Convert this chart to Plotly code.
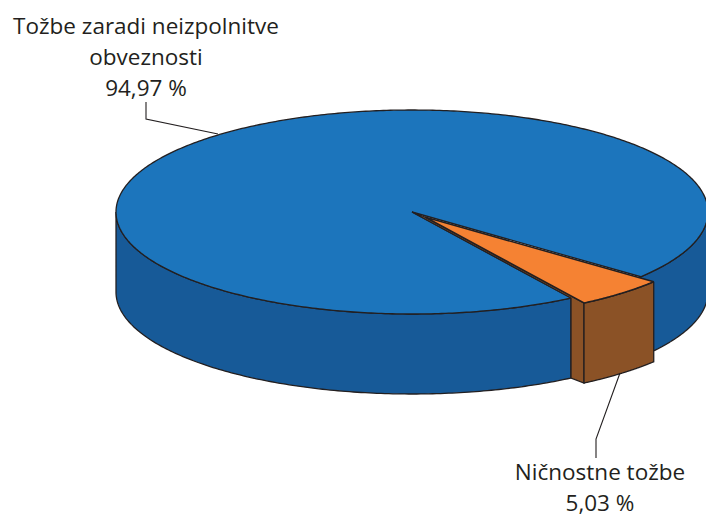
import numpy as np
import plotly.graph_objects as go

categories = ["Tožbe zaradi neizpolnitve<br>obveznosti", "Ničnostne tožbe"]
shares = [94.97, 5.03]
value_labels = ["94,97 %", "5,03 %"]

W, H = 706, 520
CX, CY, RX, RY, DEPTH = 412, 212, 296, 102, 80
EXPLODE = (13, 5)
START = 39.4  # degrees, where the small slice starts (clockwise on screen)

BLUE, BLUE_D = "#1c75bc", "#175a98"
ORANGE, ORANGE_D = "#f58233", "#8b5226"
INK = "#231f20"

sweep = shares[1] / sum(shares) * 360
a0, a1 = START, START + sweep


def arc(t0, t1, cx=CX, cy=CY, dz=0, n=160):
    t = np.radians(np.linspace(t0, t1, n))
    return cx + RX * np.cos(t), cy + RY * np.sin(t) + dz


def poly(xs, ys, fill, width=1.3):
    return go.Scatter(x=list(xs) + [xs[0]], y=list(ys) + [ys[0]], mode="lines", fill="toself",
                      fillcolor=fill, line=dict(color=INK, width=width, simplify=False),
                      hoverinfo="skip", showlegend=False)


def wall(t0, t1, cx=CX, cy=CY):
    xt, yt = arc(t0, t1, cx, cy)
    xb, yb = arc(t0, t1, cx, cy, DEPTH)
    return poly(np.r_[xt, xb[::-1]], np.r_[yt, yb[::-1]], None)


fig = go.Figure()

# blue body
for t0, t1 in [(a1, 180), (0, a0)]:
    w = wall(t0, t1)
    w.fillcolor = BLUE_D
    fig.add_trace(w)
xt, yt = arc(a1, a0 + 360, n=500)
fig.add_trace(poly(np.r_[xt, CX], np.r_[yt, CY], BLUE))

# exploded slice
ex, ey = CX + EXPLODE[0], CY + EXPLODE[1]
# radial side face, seen through the cut in the blue body
hx, hy = arc(a1, a1, n=1)
sx, sy = arc(a1, a1, ex, ey, n=1)
fig.add_trace(poly([CX, hx[0], hx[0], sx[0], sx[0], ex],
                   [CY, hy[0], hy[0] + DEPTH, sy[0] + DEPTH, sy[0], ey], ORANGE_D))
w = wall(a0, a1, ex, ey)
w.fillcolor = ORANGE_D
fig.add_trace(w)
xt, yt = arc(a0, a1, ex, ey, n=60)
fig.add_trace(poly(np.r_[ex, xt], np.r_[ey, yt], ORANGE, 1.6))

# leader lines
for lx, ly in [([146, 146, 218], [102, 119, 134]), ([620, 596, 596], [373, 439, 458])]:
    fig.add_trace(go.Scatter(x=lx, y=ly, mode="lines", line=dict(color=INK, width=1.1),
                             hoverinfo="skip", showlegend=False))

# labels
FONT = dict(family="Open Sans", size=22.5, color=INK)
lines0 = categories[0].split("<br>") + [value_labels[0]]
lines1 = [categories[1], value_labels[1]]
for lines, x, ys in [(lines0, 146, [28, 59.5, 90]), (lines1, 600, [474, 505])]:
    fig.add_trace(go.Scatter(x=[x] * len(lines), y=ys, text=lines, mode="text",
                             textposition="middle center", textfont=FONT,
                             hoverinfo="skip", showlegend=False))

axis = dict(visible=False, fixedrange=True)
fig.update_layout(width=W, height=H, margin=dict(l=0, r=0, t=0, b=0),
                  paper_bgcolor="white", plot_bgcolor="white",
                  xaxis=dict(range=[0, W], **axis), yaxis=dict(range=[H, 0], **axis))
fig.write_html("out.html", config={"displayModeBar": False},
               post_script="document.body.style.margin='0';document.documentElement.style.overflow='hidden';")
